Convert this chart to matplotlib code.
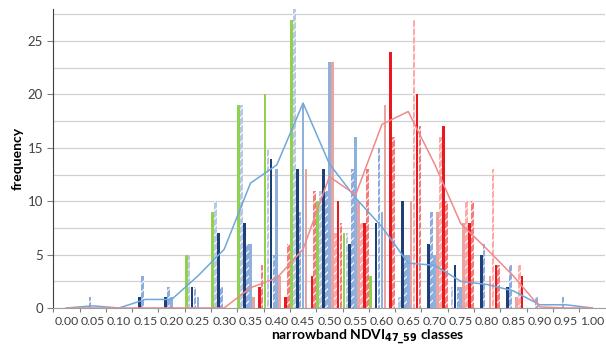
import matplotlib.pyplot as plt
import numpy as np

plt.rcParams['font.family'] = ['Lato', 'DejaVu Sans']
plt.rcParams['hatch.linewidth'] = 0.8

# classes of narrowband NDVI (0.05 wide)
classes = ['0.00', '0.05', '0.10', '0.15', '0.20', '0.25', '0.30', '0.35', '0.40', '0.45', '0.50',
           '0.55', '0.60', '0.65', '0.70', '0.75', '0.80', '0.85', '0.90', '0.95', '1.00']

# frequencies per class, one list per series
green = [0, 0, 0, 0, 0, 5, 9, 19, 20, 27, 10, 7, 3, 0, 0, 0, 0, 0, 0, 0, 0]
grey_blue_hatch = [0, 0, 0, 0, 0, 5, 10, 19, 15, 28, 11, 7, 0, 1, 0, 2, 0, 0, 0, 0, 0]
dark_blue = [0, 0, 0, 1, 1, 2, 7, 8, 14, 13, 13, 6, 8, 10, 6, 4, 5, 2, 0, 0, 0]
light_blue_hatch = [0, 1, 0, 3, 2, 2, 2, 6, 5, 9, 11, 13, 15, 5, 9, 2, 6, 4, 1, 1, 0]
light_blue = [0, 0, 0, 0, 1, 1, 0, 6, 13, 19, 23, 16, 9, 5, 5, 2, 0, 0, 0, 0, 0]
salmon = [0, 0, 0, 0, 0, 0, 0, 1, 3, 13, 23, 10, 19, 10, 9, 8, 3, 1, 0, 0, 0]
pink_hatch = [0, 0, 0, 0, 0, 0, 0, 0, 0, 0, 7, 8, 0, 27, 16, 10, 13, 4, 0, 0, 0]
red = [0, 0, 0, 0, 0, 0, 0, 2, 1, 3, 10, 8, 24, 20, 17, 8, 4, 3, 0, 0, 0]
red_hatch = [0, 0, 0, 0, 0, 0, 0, 4, 6, 11, 8, 13, 16, 17, 10, 10, 4, 0, 0, 0, 0]

# summary curves
blue_curve = [0, 0.2, 0, 0.8, 0.8, 3, 5.5, 11.7, 13.4, 19.2, 13.5, 10.3, 7.6, 4.2, 4.0, 2.5, 2.2, 1.6, 0.3, 0.3, 0]
pink_curve = [0, 0, 0, 0, 0, 0, 0, 1.9, 2.8, 5.5, 12.3, 10.6, 17.2, 18.4, 13.5, 7.9, 5.5, 3.0, 0.1, 0, 0]

series = [
    (green, '#92D050', None),
    (grey_blue_hatch, '#B8C8E0', '////'),
    (dark_blue, '#1F3F77', None),
    (light_blue_hatch, '#8FAADC', '////'),
    (light_blue, '#8EB0DD', None),
    (salmon, '#E9A3A0', None),
    (pink_hatch, '#FFA8A8', '////'),
    (red, '#E8191F', None),
    (red_hatch, '#F57B7B', '////'),
]

fig = plt.figure(figsize=(6.06, 3.48), dpi=100)
ax = fig.add_axes([0.088, 0.115, 0.911, 0.859])

x = np.arange(len(classes))
n = len(series)
w = 1.0 / n
for i, (vals, col, hatch) in enumerate(series):
    pos = x - 0.5 + (i + 0.5) * w
    if hatch:
        ax.bar(pos, vals, width=w * 0.9, color=col, edgecolor='white', hatch=hatch,
               linewidth=0, zorder=2)
    else:
        ax.bar(pos, vals, width=w * 0.9, color=col, linewidth=0, zorder=2)

ax.plot(x, blue_curve, color='#6FA8DC', lw=1.1, zorder=3)
ax.plot(x, pink_curve, color='#F08A8A', lw=1.1, zorder=3)

ax.set_xlim(-0.5, len(classes) - 0.5)
ax.set_ylim(0, 28)

# category axis: ticks between classes, labels in the middle
ax.set_xticks(x - 0.5)
ax.set_xticklabels([])
ax.set_xticks(x, minor=True)
ax.set_xticklabels(classes, minor=True)
ax.tick_params(axis='x', which='major', length=3, color='#808080')
ax.tick_params(axis='x', which='minor', length=0, pad=6, labelsize=8.8, labelcolor='#404040')

ax.set_yticks(np.arange(0, 26, 5))
ax.set_yticks(np.arange(0, 28, 2.5), minor=True)
ax.tick_params(axis='y', which='major', length=4, color='#808080', labelsize=9.5, labelcolor='#404040')
ax.tick_params(axis='y', which='minor', length=0)
ax.grid(axis='y', which='both', color='#D0D0D0', lw=0.9, zorder=0)
ax.set_axisbelow(True)

for s in ['top', 'right']:
    ax.spines[s].set_visible(False)
ax.spines['left'].set_color('#404040')
ax.spines['bottom'].set_color('#A0A0A0')

ax.set_ylabel('frequency', fontsize=10, fontweight='bold', labelpad=3)
ax.set_xlabel(r'narrowband NDVI$_{\mathbf{47\_59}}$ classes', fontsize=10, fontweight='bold',
              labelpad=0, x=0.57)

fig.savefig('out.png', dpi=100)
